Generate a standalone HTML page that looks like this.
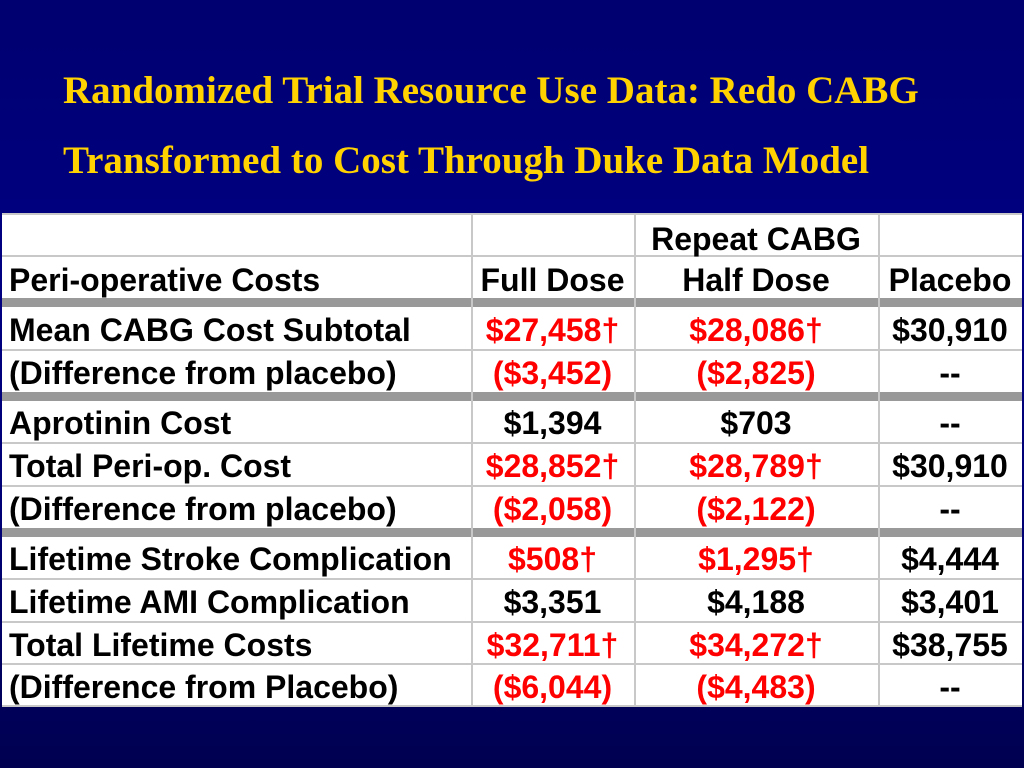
<!DOCTYPE html>
<html><head><meta charset="utf-8"><style>
body{margin:0;width:1024px;height:768px;overflow:hidden;background:linear-gradient(#000070 0%,#000082 35%,#000074 70%,#000050 100%);font-family:"Liberation Sans",sans-serif;position:relative}
.t{position:absolute;left:63px;color:#ffd200;font:bold 39px "Liberation Serif",serif;white-space:nowrap}
#tbl{position:absolute;left:2px;top:213px;width:1020px;height:494px;background:#fff}
.h{position:absolute;left:0;width:1020px;background:#c8c8c8}
.v{position:absolute;width:2px;background:#c8c8c8}
.c{position:absolute;font-weight:bold;font-size:32px;white-space:nowrap;line-height:42px;color:#000}
.r{color:#f00}
</style></head><body>
<div class="t" style="top:68px">Randomized Trial Resource Use Data: Redo CABG</div>
<div class="t" style="top:138px">Transformed to Cost Through Duke Data Model</div>
<div id="tbl"></div>
<script>
const labels=["Mean CABG Cost Subtotal","(Difference from placebo)","Aprotinin Cost","Total Peri-op. Cost","(Difference from placebo)","Lifetime Stroke Complication","Lifetime AMI Complication","Total Lifetime Costs","(Difference from Placebo)"];
const fullDose=["$27,458†","($3,452)","$1,394","$28,852†","($2,058)","$508†","$3,351","$32,711†","($6,044)"];
const halfDose=["$28,086†","($2,825)","$703","$28,789†","($2,122)","$1,295†","$4,188","$34,272†","($4,483)"];
const placebo=["$30,910","--","--","$30,910","--","$4,444","$3,401","$38,755","--"];
const redFull=[1,1,0,1,1,1,0,1,1];
const redHalf=[1,1,0,1,1,1,0,1,1];
const T=document.getElementById('tbl');
const rowTops=[96,139,189,232,275,325,368,411,453];
const cols=[[0,469],[469,632],[632,876],[876,1020]];
function cell(txt,x0,x1,top,left,red,name){
 const d=document.createElement('div');d.className='c'+(red?' r':'');d.textContent=txt;
 
 
 d.style.top=top+'px';
 if(left){d.style.left=(x0+7)+'px';}else{d.style.left=x0+'px';d.style.width=(x1-x0)+'px';d.style.textAlign='center';}
 T.appendChild(d);
}
function hl(y,h,c,name){const d=document.createElement('div');d.className='h';d.style.top=y+'px';d.style.height=h+'px';if(c)d.style.background=c;
 
 
 T.appendChild(d);}
[0,42,136,229,272,365,408,450,492].forEach(y=>hl(y,2,null,'row-line'));
[85,179,315].forEach(y=>hl(y,9,'#999','section-separator'));
[469,632,876].forEach(x=>{const d=document.createElement('div');d.className='v';d.style.left=x+'px';d.style.top='0px';d.style.height='494px';
 
 
 T.appendChild(d);});
cell("Repeat CABG",632,876,5,false,false,'repeat-cabg-header');
cell("Peri-operative Costs",0,469,46,true,false,'row-header');
cell("Full Dose",469,632,46,false,false,'full-dose-header');
cell("Half Dose",632,876,46,false,false,'half-dose-header');
cell("Placebo",876,1020,46,false,false,'placebo-header');
labels.forEach((l,i)=>{
 cell(l,0,469,rowTops[i],true,false,'row-label');
 cell(fullDose[i],469,632,rowTops[i],false,redFull[i],'full-dose-value');
 cell(halfDose[i],632,876,rowTops[i],false,redHalf[i],'half-dose-value');
 cell(placebo[i],876,1020,rowTops[i],false,false,'placebo-value');
});
</script>
</body></html>
